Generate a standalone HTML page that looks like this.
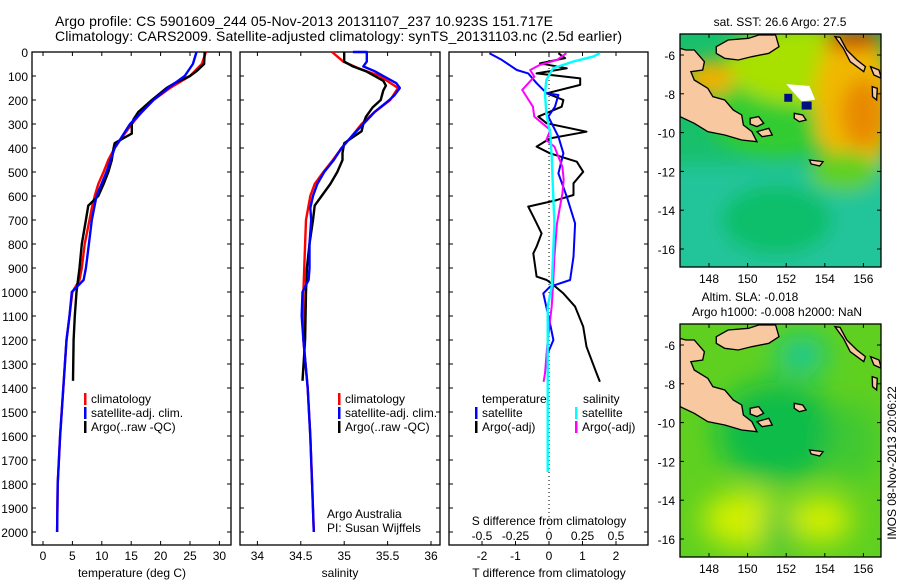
<!DOCTYPE html>
<html><head><meta charset="utf-8"><style>
html,body{margin:0;padding:0;background:#fff;}
svg{display:block;font-family:"Liberation Sans",sans-serif;}
</style></head><body>
<svg id="c" width="900" height="580" viewBox="0 0 900 580">
<defs>
<clipPath id="m1"><rect x="680" y="34" width="201" height="233"/></clipPath>
<clipPath id="m2"><rect x="680" y="324" width="201" height="233"/></clipPath>
<filter id="bl" x="-20%" y="-20%" width="140%" height="140%"><feGaussianBlur stdDeviation="9"/></filter>
<filter id="bl2" x="-20%" y="-20%" width="140%" height="140%"><feGaussianBlur stdDeviation="14"/></filter>
</defs>
<text x="55" y="26" font-size="14" textLength="498">Argo profile: CS 5901609_244 05-Nov-2013 20131107_237 10.923S 151.717E</text>
<text x="55" y="41" font-size="14" textLength="567">Climatology: CARS2009. Satellite-adjusted climatology: synTS_20131103.nc (2.5d earlier)</text>
<g id="plots"></g>
<g id="maps"></g>
</svg>
<script>
// ---- data ----
const tClimDepth=[0,50,100,150,200,250,300,350,400,450,500,550,600,650,700,800,900,950,1000,1100,1200,1400,1600,1800,2000];
const tClim=[27.7,27.0,25,21.6,18.8,16.8,15.1,13.6,12.2,11.1,10.3,9.4,8.8,8.3,7.9,7.1,6.6,6.2,5.0,4.5,4.0,3.45,2.9,2.5,2.4];
const tSatDepth=[0,50,100,150,200,300,400,500,600,700,800,900,950,1000,1100,1200,1400,1600,1800,2000];
const tSat=[26.1,25.5,24.1,21.3,18.8,14.8,12.2,10.8,9.1,8.3,7.8,7.3,6.9,4.9,4.5,4.0,3.45,2.9,2.5,2.4];
const tArgoDepth=[0,50,80,100,130,150,200,250,280,300,340,360,380,400,450,500,550,600,640,700,800,900,1000,1100,1200,1370];
const tArgo=[27.5,27.4,26.1,25,22.4,21,18.5,16.2,15.4,15.1,15.1,13.6,12.2,12,11.7,11.1,10.3,9.4,7.7,7.3,6.6,6.2,5.7,5.4,5.2,5.1];
const sClimDepth=[0,40,70,100,150,200,250,300,350,400,450,500,550,600,700,800,1000,1200,1400,1600,1800,2000];
const sClim=[34.86,34.99,35.18,35.41,35.62,35.53,35.35,35.2,35.09,34.97,34.87,34.76,34.66,34.61,34.56,34.55,34.53,34.53,34.58,34.61,34.63,34.65];
const sSatDepth=[0,0,40,60,80,100,130,150,180,200,250,300,350,400,450,500,550,600,650,700,800,900,950,1000,1100,1200,1400,1600,1800,2000];
const sSat=[35.1,35.26,35.26,35.22,35.35,35.45,35.6,35.64,35.58,35.52,35.35,35.22,35.09,34.97,34.88,34.77,34.69,34.64,34.61,34.62,34.6,34.6,34.59,34.52,34.51,34.53,34.58,34.61,34.63,34.65];
const sArgoDepth=[0,40,60,80,100,120,140,160,200,230,270,300,330,350,380,420,450,500,550,600,640,700,800,900,1000,1200,1370];
const sArgo=[35.0,35.0,35.1,35.25,35.35,35.45,35.48,35.45,35.42,35.33,35.25,35.22,35.2,35.12,35.0,34.98,34.98,34.92,34.84,34.74,34.66,34.64,34.6,34.57,34.56,34.55,34.52];
const dTArgoDepth=[5,26,47,68,89,110,137,172,200,228,269,297,332,360,394,422,457,499,547,596,617,644,686,756,811,839,936,950,971,1006,1061,1144,1228,1339,1374];
const dTArgo=[0.28,0.48,-0.27,0.53,-0.37,0.93,0.93,-0.07,0.43,0.38,-0.32,-0.07,1.12,0.03,-0.37,0.03,0.83,1.02,0.73,0.73,0.23,-0.62,-0.47,-0.22,-0.37,-0.47,-0.37,-0.07,0.13,0.43,0.78,1.02,1.12,1.42,1.52];
const dTSatDepth=[5,33,75,89,130,172,179,228,269,353,422,506,603,714,853,950,978,1006,1131,1200,1250];
const dTSat=[-1.78,-1.41,-0.96,-0.62,-0.37,-0.07,0.28,0.18,-0.02,0.28,0.43,0.28,0.53,0.78,0.73,0.63,0.03,-0.17,0.03,0.13,-0.02];
const dSArgoDepth=[5,33,54,75,103,158,228,269,325,367,394,478,533,589,714,853,978,1061,1200,1339,1374];
const dSArgo=[0.13,0.06,-0.07,-0.14,-0.11,-0.2,-0.12,-0.11,0.01,-0.02,0.04,0.1,0.11,0.1,0.06,0.04,0.03,0.02,-0.01,-0.03,-0.04];
const dSSatDepth=[5,19,40,68,117,172,256,339,436,575,714,853,978,1061,1200,1339,1750];
const dSSat=[0.38,0.33,0.18,0.03,-0.02,-0.03,-0.02,0.01,0.02,0.03,0.04,0.03,0.02,-0.01,-0.01,-0.01,-0.01];
const depthTicks=[0,100,200,300,400,500,600,700,800,900,1000,1100,1200,1300,1400,1500,1600,1700,1800,1900,2000];
const tTicks=[0,5,10,15,20,25,30];
const sTicks=[34,34.5,35,35.5,36];
const sTickLabels=['34','34.5','35','35.5','36'];
const dtTicks=[-2,-1,0,1,2];
const dsTicks=[-0.5,-0.25,0,0.25,0.5];
const dsTickLabels=['-0.5','-0.25','0','0.25','0.5'];
const lonTicks=[148,150,152,154,156];
const latTicks=[-6,-8,-10,-12,-14,-16];

// ---- scales ----
const Y=d=>52+d*0.24;
const XT=t=>43+t*5.88;
const XS=s=>257.4+(s-34)*86.8;
const XDT=v=>549+v*33.5;
const XDS=v=>549+v*134;
const NS='http://www.w3.org/2000/svg';
const G=document.getElementById('plots');
function mk(tag,attrs,parent){const e=document.createElementNS(NS,tag);for(const k in attrs)e.setAttribute(k,attrs[k]);(parent||G).appendChild(e);return e;}
function txt(x,y,s,size,anchor,parent){const e=mk('text',{x:x,y:y,'font-size':size||12,'text-anchor':anchor||'start'},parent);e.textContent=s;return e;}
function line(xs,ds,X,color,w,name){
  const pts=xs.map((v,i)=>X(v).toFixed(1)+','+Y(ds[i]).toFixed(1)).join(' ');
  const p=mk('polyline',{points:pts,fill:'none',stroke:color,'stroke-width':w,'stroke-linejoin':'round'});
  
  
}
const panels=[[32,231],[240,440],[449,648]];
panels.forEach((p,i)=>{
  const r=mk('rect',{x:p[0],y:52,width:p[1]-p[0],height:493,fill:'none',stroke:'#000','stroke-width':1.3});
  
  
  depthTicks.forEach(d=>{mk('line',{x1:p[0],x2:p[0]+4,y1:Y(d),y2:Y(d),stroke:'#000'});mk('line',{x1:p[1],x2:p[1]-4,y1:Y(d),y2:Y(d),stroke:'#000'});});
});
depthTicks.forEach(d=>{const t=txt(28,Y(d)+5,String(d),12,'end');});
tTicks.forEach(v=>{mk('line',{x1:XT(v),x2:XT(v),y1:545,y2:541,stroke:'#000'});mk('line',{x1:XT(v),x2:XT(v),y1:52,y2:56,stroke:'#000'});const t=txt(XT(v),560,String(v),12,'middle');});
sTicks.forEach((v,i)=>{mk('line',{x1:XS(v),x2:XS(v),y1:545,y2:541,stroke:'#000'});mk('line',{x1:XS(v),x2:XS(v),y1:52,y2:56,stroke:'#000'});const t=txt(XS(v),560,sTickLabels[i],12,'middle');});
dtTicks.forEach(v=>{mk('line',{x1:XDT(v),x2:XDT(v),y1:545,y2:541,stroke:'#000'});mk('line',{x1:XDT(v),x2:XDT(v),y1:52,y2:56,stroke:'#000'});const t=txt(XDT(v),560,String(v),12,'middle');});
dsTicks.forEach((v,i)=>{const t=txt(XDS(v),540,dsTickLabels[i],12,'middle');});
let e;
e=txt(132,577,'temperature (deg C)',12,'middle');
e=txt(340,577,'salinity',12,'middle');
e=txt(549,577,'T difference from climatology',12,'middle');
e=txt(549,525,'S difference from climatology',12,'middle');
e=txt(327,518,'Argo Australia',12);
e=txt(327,532,'PI: Susan Wijffels',12);
// zero dotted line
e=mk('line',{x1:549,x2:549,y1:Y(0),y2:Y(2000),stroke:'#000','stroke-dasharray':'1,3'});
// profiles
line(tClim,tClimDepth,XT,'#f00',2.4,'temp-climatology-line');
line(tArgo,tArgoDepth,XT,'#000',2.4,'temp-argo-line');
line(tSat,tSatDepth,XT,'#00f',2.4,'temp-satellite-line');
line(sClim,sClimDepth,XS,'#f00',2.4,'sal-climatology-line');
line(sArgo,sArgoDepth,XS,'#000',2.4,'sal-argo-line');
line(sSat,sSatDepth,XS,'#00f',2.4,'sal-satellite-line');
line(dTArgo,dTArgoDepth,XDT,'#000',2,'dt-argo-line');
line(dTSat,dTSatDepth,XDT,'#00f',2,'dt-satellite-line');
line(dSArgo,dSArgoDepth,XDS,'#f0f',2,'ds-argo-line');
line(dSSat,dSSatDepth,XDS,'#0ff',2.4,'ds-satellite-line');
// legends
function leg(x,y,color,label,name){const b=mk('rect',{x:x,y:y-10,width:2.5,height:12,fill:color});const t=txt(x+7,y,label,12);}
leg(84,403,'#f00','climatology','legend-temp-climatology');
leg(84,417,'#00f','satellite-adj. clim.','legend-temp-satellite');
leg(84,431,'#000','Argo(..raw -QC)','legend-temp-argo');
leg(338,403,'#f00','climatology','legend-sal-climatology');
leg(338,417,'#00f','satellite-adj. clim.','legend-sal-satellite');
leg(338,431,'#000','Argo(..raw -QC)','legend-sal-argo');
e=txt(482,403,'temperature',12);
e=txt(583,403,'salinity',12);
leg(475,417,'#00f','satellite','legend-dt-satellite');
leg(475,431,'#000','Argo(-adj)','legend-dt-argo');
leg(575,417,'#0ff','satellite','legend-ds-satellite');
leg(575,431,'#f0f','Argo(-adj)','legend-ds-argo');

// ---- maps ----
const M=document.getElementById('maps');
const LX=lon=>709+(lon-148)*19.3;
const LY=(lat,off)=>55+off+(-6-lat)*19.4;
const land=[
 "118,145 135,150 160,150 190,185 185,210 150,215 160,240 200,265 215,290 250,300 275,330 300,345 305,375 330,395 345,425 300,420 250,405 200,395 160,370 118,350",
 "225,140 260,120 320,115 350,105 400,105 410,140 380,160 330,170 290,180 250,175 225,160",
 "575,110 590,112 610,150 640,180 665,200 660,215 620,185 600,145",
 "680,200 705,210 712,235 690,225",
 "685,260 700,265 698,300 686,290",
 "455,340 480,345 490,360 470,365 455,355",
 "325,355 350,350 365,370 345,380 325,372",
 "345,395 380,385 390,405 360,410",
 "500,480 540,485 530,498 505,492"
];
function drawMap(off,kind){
  const g=mk('g',{'clip-path':'url(#m'+(off?2:1)+')'},M);
  
  
  const x0=680,y0=34+off,w=201,h=233;
  if(kind==='sst'){
    mk('rect',{x:x0,y:y0,width:w,height:h,fill:'#18c06c'},g);
    const b=mk('g',{filter:'url(#bl)'},g);
    mk('rect',{x:x0-20,y:y0+130,width:w+40,height:130,fill:'#20c49a'},b);
    mk('ellipse',{cx:LX(151.5),cy:LY(-9,off),rx:70,ry:45,fill:'#30cc30'},b);
    mk('ellipse',{cx:LX(153),cy:LY(-6.5,off),rx:80,ry:40,fill:'#a8e000'},b);
    mk('ellipse',{cx:LX(155.5),cy:LY(-8.5,off),rx:40,ry:75,fill:'#f0b800'},b);
    mk('ellipse',{cx:LX(156),cy:LY(-9,off),rx:22,ry:35,fill:'#e88a00'},b);
    mk('ellipse',{cx:LX(155.5),cy:LY(-5.2,off),rx:30,ry:10,fill:'#c84000'},b);
    mk('ellipse',{cx:LX(148),cy:LY(-7.2,off),rx:25,ry:18,fill:'#f0b000'},b);
    mk('ellipse',{cx:LX(151.5),cy:LY(-14.5,off),rx:55,ry:35,fill:'#10bf6a'},b);
    mk('ellipse',{cx:LX(155),cy:LY(-12,off),rx:35,ry:20,fill:'#60d020'},b);
    mk('polygon',{points:LX(152)+','+LY(-7.5,off)+' '+LX(153.2)+','+LY(-7.6,off)+' '+LX(153.5)+','+LY(-8.3,off)+' '+LX(152.8)+','+LY(-8.4,off),fill:'#fff'},g);
    mk('rect',{x:LX(152.8),y:LY(-8.4,off),width:10,height:8,fill:'#001080'},g);
    mk('rect',{x:LX(151.9),y:LY(-8,off),width:8,height:8,fill:'#001080'},g);
  } else {
    mk('rect',{x:x0,y:y0,width:w,height:h,fill:'#60d020'},g);
    const b=mk('g',{filter:'url(#bl2)'},g);
    mk('ellipse',{cx:LX(151.5),cy:LY(-10.5,off),rx:60,ry:50,fill:'#10bc48'},b);
    mk('ellipse',{cx:LX(152.8),cy:LY(-6.5,off),rx:25,ry:18,fill:'#10c8a0'},b);
    mk('ellipse',{cx:LX(150),cy:LY(-15,off),rx:45,ry:28,fill:'#d4f000'},b);
    mk('ellipse',{cx:LX(153.8),cy:LY(-15,off),rx:30,ry:22,fill:'#d8f000'},b);
    mk('ellipse',{cx:LX(155.5),cy:LY(-11,off),rx:25,ry:40,fill:'#40c830'},b);
    mk('ellipse',{cx:LX(151.5),cy:LY(-15.5,off),rx:12,ry:30,fill:'#20c040'},b);
  }
  const lg=mk('g',{transform:'translate(640,'+off+') scale(0.339,0.3333)'},g);
  land.forEach(p=>{const q=mk('polygon',{points:p,fill:'#f8c8a0',stroke:'#000','stroke-width':4},lg);});
  const fr=mk('rect',{x:x0,y:y0,width:w,height:h,fill:'none',stroke:'#000','stroke-width':1.3},M);
  
  
  lonTicks.forEach(v=>{mk('line',{x1:LX(v),x2:LX(v),y1:y0,y2:y0+4,stroke:'#000'},M);mk('line',{x1:LX(v),x2:LX(v),y1:y0+h,y2:y0+h-4,stroke:'#000'},M);const t=txt(LX(v),y0+h+16,String(v),12,'middle',M);});
  latTicks.forEach(v=>{mk('line',{x1:x0,x2:x0+4,y1:LY(v,off),y2:LY(v,off),stroke:'#000'},M);mk('line',{x1:x0+w,x2:x0+w-4,y1:LY(v,off),y2:LY(v,off),stroke:'#000'},M);const t=txt(675,LY(v,off)+5,String(v),12,'end',M);});
}
drawMap(0,'sst');
drawMap(290,'sla');
e=txt(780,26,'sat. SST: 26.6 Argo: 27.5',12,'middle',M);
e=txt(750,301,'Altim. SLA: -0.018',12,'middle',M);
e=txt(777,316,'Argo h1000: -0.008 h2000: NaN',12,'middle',M);
e=txt(0,0,'IMOS 08-Nov-2013 20:06:22',12,'middle',M);e.setAttribute('transform','translate(896,463) rotate(-90)');
</script>
</body></html>
